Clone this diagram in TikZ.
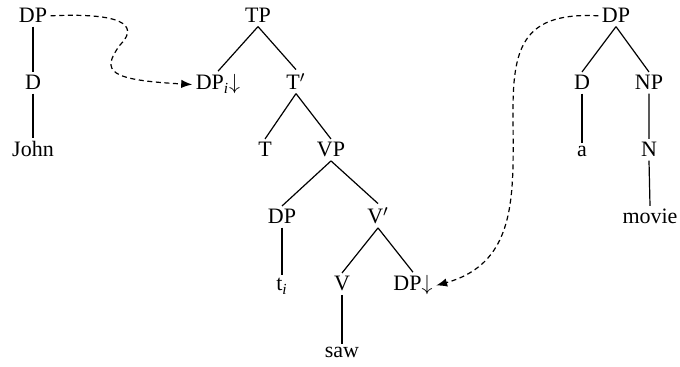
\documentclass[tikz,border=0pt]{standalone}
\usepackage{fontspec}
\setmainfont{Liberation Serif}
\usetikzlibrary{arrows.meta}
\tikzset{
  tn/.style={anchor=base,inner sep=1.5pt,font=\fontsize{11}{13}\selectfont},
  mv/.style={dash pattern=on 2.5pt off 1.8pt,-{Latex[length=5.5pt,width=4.2pt]}}
}
\begin{document}
\begin{tikzpicture}[x=0.5pt,y=-0.5pt,line width=0.6pt]
        \useasboundingbox (0,0) rectangle (680,367);
        %John;
            \node[tn] (dpa) at (33,23) {DP};
            \node[tn] (da) at (33,90) {D};
            \node[tn] (john) at (33,157) {John};
            \draw (dpa.south)--(da.north) (da.south)--(john.north);
        %主树;
            \node[tn] (tp) at (258,23) {TP};
            \node[tn] (dpi) at (218,90) {DP\textsubscript{\itshape i}$\downarrow$};
            \node[tn] (tbar) at (296,90) {T$'$};
            \node[tn] (t) at (265,157) {T};
            \node[tn] (vp) at (331,157) {VP};
            \node[tn] (dpt) at (282,224) {DP};
            \node[tn] (vbar) at (378,224) {V$'$};
            \node[tn] (ti) at (282,291) {t\textsubscript{\itshape i}};
            \node[tn] (v) at (342,291) {V};
            \node[tn] (dpo) at (413,291) {DP$\downarrow$};
            \node[tn] (saw) at (342,358) {saw};
            \draw (tp.south)--(dpi.north) (tp.south)--(tbar.north);
            \draw (tbar.south)--(t.north) (tbar.south)--(vp.north);
            \draw (vp.south)--(dpt.north) (vp.south)--(vbar.north);
            \draw (dpt.south)--(ti.north);
            \draw (vbar.south)--(v.north) (vbar.south)--(dpo.north);
            \draw (v.south)--(saw.north);
        %a movie;
            \node[tn] (dpb) at (616,23) {DP};
            \node[tn] (db) at (582,90) {D};
            \node[tn] (np) at (649,90) {NP};
            \node[tn] (a) at (582,157) {a};
            \node[tn] (n) at (649,157) {N};
            \node[tn] (movie) at (650,224) {movie};
            \draw (dpb.south)--(db.north) (dpb.south)--(np.north);
            \draw (db.south)--(a.north);
            \draw (np.south)--(n.north) (n.south)--(movie.north);
        %替换;
            \draw [mv] (dpa.east) .. controls (135,12) and (135,30) .. (120,45)
                .. controls (100,72) and (110,80) .. (dpi.west);
            \draw [mv] (dpb.west) .. controls (525,12) and (513,45) .. (513,110)
                .. controls (513,190) and (520,262) .. (dpo.east);
    \end{tikzpicture}
\end{document}
